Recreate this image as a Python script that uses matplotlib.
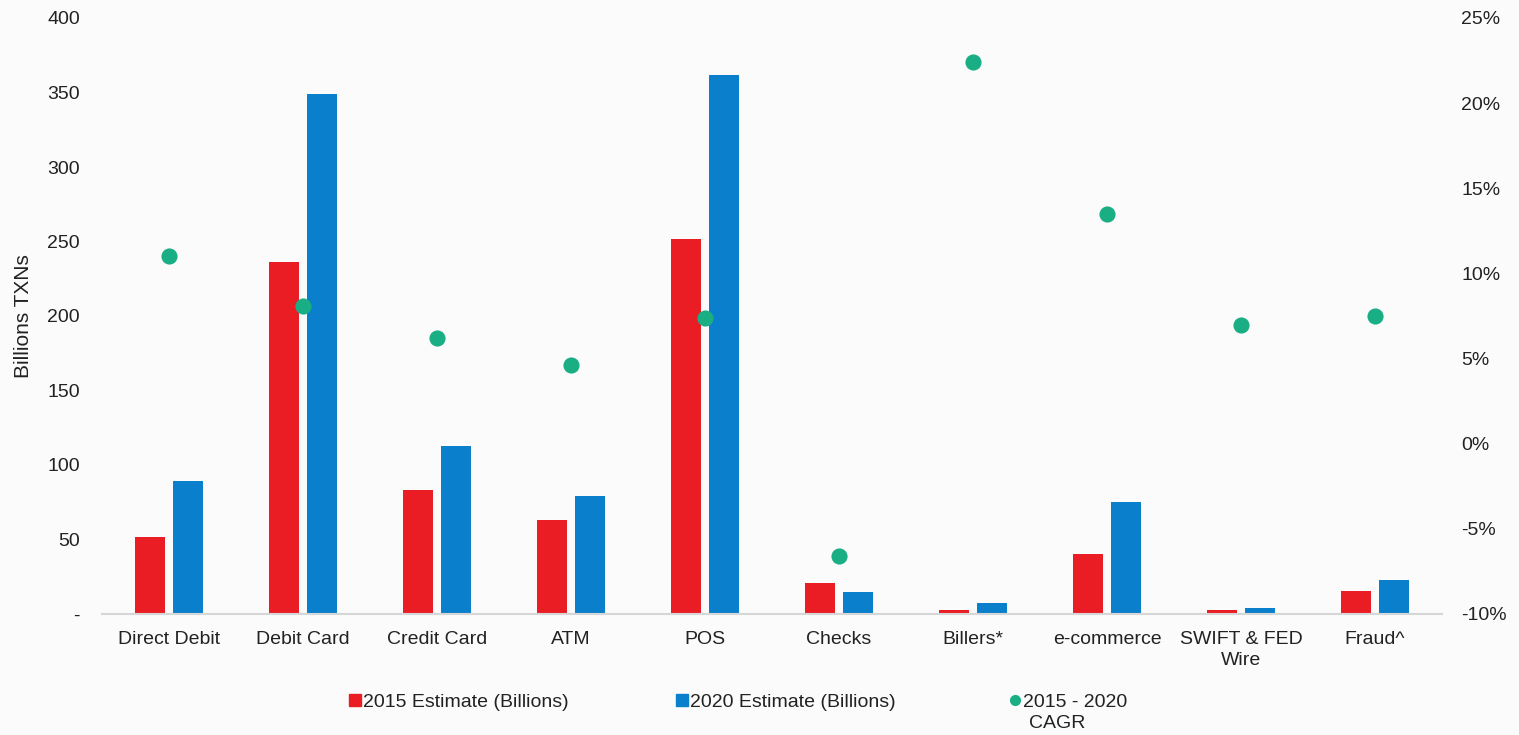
import numpy as np
import matplotlib.pyplot as plt
from matplotlib.lines import Line2D
from matplotlib.ticker import FuncFormatter, MultipleLocator

plt.rcParams['font.family'] = ['Liberation Sans', 'DejaVu Sans']

categories = ["Direct Debit", "Debit Card", "Credit Card", "ATM", "POS",
              "Checks", "Billers*", "e-commerce", "SWIFT & FED\nWire", "Fraud^"]
est_2015 = [52, 236, 83, 63, 252, 21, 2.7, 40, 2.5, 15.5]
est_2020 = [89, 349, 113, 79, 362, 15, 7.5, 75, 4, 23]
cagr = [11.0, 8.1, 6.2, 4.6, 7.4, -6.6, 22.4, 13.5, 7.0, 7.5]

red = "#ea1d25"
blue = "#0a7fcb"
green = "#1aae85"
txt = "#222222"

fig = plt.figure(figsize=(15.19, 7.35), dpi=100, facecolor="#fbfbfb")
ax = fig.add_axes([102 / 1519, 1 - 614 / 735, 1340 / 1519, 596 / 735])
ax.set_facecolor("#fbfbfb")

x = np.arange(len(categories))
w = 0.224
off = 0.142
ax.bar(x - off, est_2015, width=w, color=red, zorder=2)
ax.bar(x + off, est_2020, width=w, color=blue, zorder=2)

ax.set_xlim(-0.5, len(categories) - 0.5)
ax.set_ylim(0, 400)
ax.yaxis.set_major_locator(MultipleLocator(50))
ax.yaxis.set_major_formatter(FuncFormatter(lambda v, p: "-" if v == 0 else f"{v:.0f}"))
ax.set_xticks(x)
ax.set_xticklabels(categories, fontsize=14, color=txt, linespacing=1.3)
ax.tick_params(axis="x", length=0, pad=12)
ax.tick_params(axis="y", length=0, pad=16, labelsize=14, labelcolor=txt)
ax.set_ylabel("Billions TXNs", fontsize=15, color=txt, labelpad=10)

for s in ["top", "left", "right"]:
    ax.spines[s].set_visible(False)
ax.spines["bottom"].set_color("#d6d6d6")
ax.spines["bottom"].set_linewidth(1.5)

ax2 = ax.twinx()
ax2.scatter(x, cagr, s=135, color=green, zorder=3, linewidths=0)
ax2.set_ylim(-10, 25)
ax2.yaxis.set_major_locator(MultipleLocator(5))
ax2.yaxis.set_major_formatter(FuncFormatter(lambda v, p: f"{v:.0f}%"))
ax2.tick_params(axis="y", length=0, pad=14, labelsize=14, labelcolor=txt)
for s in ["top", "left", "right", "bottom"]:
    ax2.spines[s].set_visible(False)

# legend entries placed one by one
entries = [
    (Line2D([], [], marker="s", linestyle="", color=red, markersize=8), "2015 Estimate (Billions)", 349),
    (Line2D([], [], marker="s", linestyle="", color=blue, markersize=8), "2020 Estimate (Billions)", 676),
    (Line2D([], [], marker="o", linestyle="", color=green, markersize=7), "2015 - 2020", 1009),
]
for h, lab, px in entries:
    fig.legend([h], [lab], loc="center left", bbox_to_anchor=(px / 1519, 1 - 702 / 735),
               frameon=False, fontsize=14, handlelength=0.6, handletextpad=0.1,
               borderpad=0, borderaxespad=0, labelcolor=txt)
fig.text(1029 / 1519, 1 - 723 / 735, "CAGR", fontsize=14, color=txt, va="center", ha="left")

fig.savefig("out.png", dpi=100, facecolor=fig.get_facecolor())
